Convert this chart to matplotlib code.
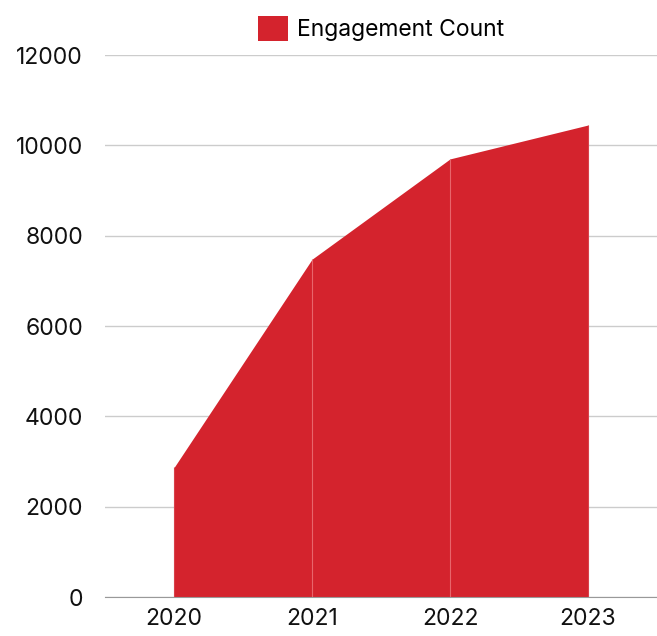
import matplotlib
matplotlib.use("Agg")
import matplotlib.pyplot as plt
import numpy as np

years = ["2020", "2021", "2022", "2023"]
engagement = [2870, 7480, 9700, 10450]
yticks = [0, 2000, 4000, 6000, 8000, 10000, 12000]

plt.rcParams['font.family'] = ['Inter', 'DejaVu Sans']

fig = plt.figure(figsize=(6.57, 6.36), dpi=100)
ax = fig.add_axes([0.16, 0.0613, 0.84, 0.8522])

x = np.arange(len(years))
red = '#D4232D'
ax.fill_between(x, 0, engagement, color=red, linewidth=0, label='Engagement Count')
# faint seams between segments
ax.vlines(x[1:-1], 0, engagement[1:-1], color='#E8656B', linewidth=0.8)
ax.vlines([x[0], x[-1]], 0, [engagement[0], engagement[-1]], color='#D8404A', linewidth=0.8)

ax.set_xlim(-0.5, len(years) - 0.5)
ax.set_ylim(0, 12000)
ax.set_xticks(x)
ax.set_xticklabels(years)
ax.set_yticks(yticks)
ax.tick_params(axis='both', length=0, labelsize=16.5, colors='#111111')
ax.tick_params(axis='x', pad=8)
ax.tick_params(axis='y', pad=16)
ax.grid(axis='y', color='#cccccc', linewidth=1)
ax.set_axisbelow(True)
for s in ['top', 'right', 'left']:
    ax.spines[s].set_visible(False)
ax.spines['bottom'].set_color('#999999')

ax.legend(loc='lower center', bbox_to_anchor=(0.5, 1.0), frameon=False,
          fontsize=16.5, handlelength=1.3, handleheight=1.3, handletextpad=0.4,
          borderaxespad=0.2)

fig.savefig('out.png', dpi=100)
